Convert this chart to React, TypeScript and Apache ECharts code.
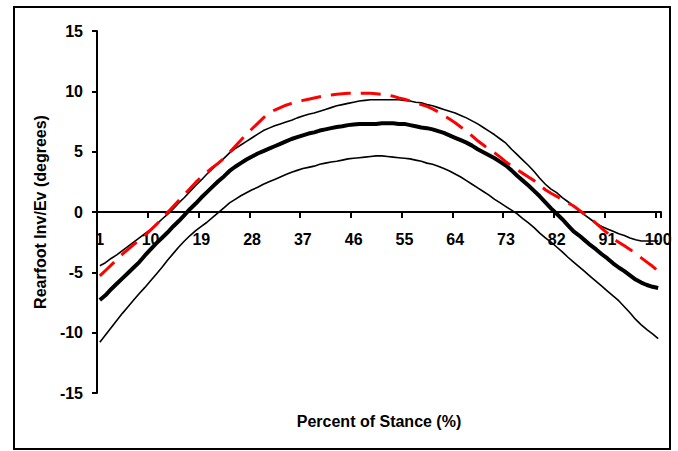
import React, { useEffect, useRef } from "react";
import * as echarts from "echarts";

const categories: string[] = Array.from({ length: 100 }, (_, i) => String(i + 1));

const meanValues: number[] = [
  -7.3, -6.9, -6.4, -5.95, -5.5, -5.05, -4.6, -4.15, -3.6, -3.1,
  -2.6, -2.15, -1.7, -1.2, -0.75, -0.25, 0.25, 0.7, 1.2, 1.65,
  2.1, 2.55, 2.95, 3.4, 3.75, 4.05, 4.35, 4.6, 4.85, 5.05,
  5.25, 5.45, 5.65, 5.85, 6.05, 6.2, 6.35, 6.5, 6.6, 6.75,
  6.85, 6.95, 7.05, 7.1, 7.2, 7.25, 7.3, 7.3, 7.3, 7.3,
  7.35, 7.35, 7.35, 7.3, 7.3, 7.2, 7.1, 7.0, 6.95, 6.85,
  6.7, 6.55, 6.35, 6.15, 5.95, 5.75, 5.5, 5.2, 4.95, 4.7,
  4.45, 4.15, 3.85, 3.45, 3.0, 2.6, 2.2, 1.75, 1.3, 0.8,
  0.3, -0.15, -0.6, -1.1, -1.6, -1.95, -2.35, -2.75, -3.1, -3.5,
  -3.85, -4.25, -4.6, -4.9, -5.25, -5.6, -5.85, -6.05, -6.2, -6.3,
];

const upperValues: number[] = [
  -4.45, -4.2, -3.85, -3.55, -3.2, -2.85, -2.5, -2.15, -1.8, -1.45,
  -1.05, -0.6, -0.2, 0.25, 0.75, 1.2, 1.7, 2.2, 2.65, 3.15,
  3.6, 4.0, 4.45, 4.9, 5.25, 5.55, 5.85, 6.15, 6.45, 6.75,
  6.95, 7.15, 7.3, 7.45, 7.6, 7.8, 7.95, 8.1, 8.2, 8.35,
  8.5, 8.65, 8.8, 8.9, 9.0, 9.1, 9.2, 9.25, 9.3, 9.3,
  9.3, 9.3, 9.3, 9.3, 9.25, 9.2, 9.1, 9.05, 8.9, 8.8,
  8.65, 8.5, 8.35, 8.2, 8.0, 7.8, 7.55, 7.3, 7.0, 6.7,
  6.4, 6.05, 5.7, 5.2, 4.75, 4.3, 3.85, 3.35, 2.8, 2.3,
  1.9, 1.6, 1.2, 0.85, 0.5, 0.1, -0.25, -0.6, -0.95, -1.2,
  -1.4, -1.6, -1.8, -1.95, -2.15, -2.3, -2.4, -2.4, -2.4, -2.4,
];

const lowerValues: number[] = [
  -10.8, -10.2, -9.6, -9.0, -8.4, -7.85, -7.3, -6.75, -6.25, -5.7,
  -5.15, -4.6, -4.0, -3.45, -2.9, -2.4, -1.95, -1.55, -1.2, -0.85,
  -0.45, -0.05, 0.35, 0.75, 1.05, 1.35, 1.6, 1.85, 2.05, 2.3,
  2.5, 2.7, 2.9, 3.1, 3.3, 3.45, 3.6, 3.7, 3.8, 3.95,
  4.05, 4.15, 4.2, 4.3, 4.4, 4.45, 4.5, 4.55, 4.6, 4.65,
  4.65, 4.6, 4.55, 4.5, 4.45, 4.4, 4.3, 4.2, 4.05, 3.95,
  3.8, 3.6, 3.4, 3.15, 2.9, 2.6, 2.3, 2.0, 1.7, 1.4,
  1.05, 0.75, 0.45, 0.15, -0.15, -0.55, -0.9, -1.3, -1.75, -2.15,
  -2.5, -2.9, -3.3, -3.75, -4.15, -4.55, -4.95, -5.35, -5.75, -6.15,
  -6.55, -6.95, -7.35, -7.85, -8.35, -8.9, -9.35, -9.75, -10.1, -10.5,
];

const redValues: number[] = [
  -5.3, -4.85, -4.4, -3.95, -3.5, -3.1, -2.7, -2.35, -1.95, -1.5,
  -1.05, -0.55, -0.05, 0.45, 0.95, 1.45, 1.95, 2.45, 2.9, 3.3,
  3.7, 4.05, 4.45, 4.95, 5.45, 5.95, 6.45, 6.9, 7.35, 7.8,
  8.2, 8.45, 8.65, 8.85, 9.0, 9.15, 9.25, 9.35, 9.45, 9.55,
  9.65, 9.7, 9.75, 9.8, 9.85, 9.85, 9.85, 9.85, 9.85, 9.8,
  9.75, 9.7, 9.6, 9.45, 9.35, 9.2, 9.05, 8.9, 8.75, 8.55,
  8.3, 8.0, 7.7, 7.4, 7.05, 6.7, 6.3, 5.9, 5.55, 5.2,
  4.9, 4.55, 4.15, 3.8, 3.5, 3.2, 2.9, 2.6, 2.2, 1.85,
  1.55, 1.3, 1.0, 0.75, 0.5, 0.15, -0.2, -0.55, -0.95, -1.35,
  -1.75, -2.2, -2.5, -2.8, -3.1, -3.45, -3.8, -4.15, -4.5, -4.9,
];

const xAxisTitle = "Percent of Stance (%)";
const yAxisTitle = "Rearfoot Inv/Ev (degrees)";

const FONT = '"Liberation Sans", Arial, sans-serif';

export default function App() {
  const ref = useRef<HTMLDivElement>(null);

  useEffect(() => {
    if (!ref.current) return;
    const chart = echarts.init(ref.current, undefined, { renderer: "svg" });
    chart.setOption({
      animation: false,
      backgroundColor: "#ffffff",
      grid: { left: 97, right: 17, top: 31, bottom: 58, containLabel: false },
      graphic: [
        {
          type: "rect",
          shape: { x: 14, y: 7, width: 656, height: 442 },
          style: { fill: "none", stroke: "#000", lineWidth: 2 },
          silent: true,
        },
      ],
      xAxis: [
        {
          type: "category",
          data: categories,
          boundaryGap: true,
          name: xAxisTitle,
          nameLocation: "middle",
          nameGap: 20,
          nameTextStyle: {
            fontFamily: FONT,
            fontWeight: "bold",
            fontSize: 16,
            color: "#000",
          },
          axisLine: { onZero: true, lineStyle: { color: "#000", width: 2 } },
          axisTick: { show: true, interval: 8, length: 6, inside: false, lineStyle: { color: "#000", width: 2 } },
          axisLabel: { show: false },
          splitLine: { show: false },
        },
        {
          type: "category",
          data: categories,
          boundaryGap: true,
          position: "bottom",
          offset: -162,
          axisLine: { show: false, onZero: false },
          axisTick: { show: false },
          axisLabel: {
            interval: 8,
            margin: 0,
            fontFamily: FONT,
            fontWeight: "bold",
            fontSize: 16,
            color: "#000",
          },
          splitLine: { show: false },
        },
      ],
      yAxis: {
        type: "value",
        min: -15,
        max: 15,
        interval: 5,
        name: yAxisTitle,
        nameLocation: "middle",
        nameGap: 48,
        nameTextStyle: {
          fontFamily: FONT,
          fontWeight: "bold",
          fontSize: 16,
          color: "#000",
        },
        axisLine: { show: true, lineStyle: { color: "#000", width: 2 } },
        axisTick: { show: true, length: 5, lineStyle: { color: "#000", width: 2 } },
        axisLabel: {
          margin: 14,
          fontFamily: FONT,
          fontWeight: "bold",
          fontSize: 16,
          color: "#000",
        },
        splitLine: { show: false },
      },
      series: [
        {
          name: "Lower",
          type: "line",
          data: lowerValues,
          symbol: "none",
          lineStyle: { color: "#000", width: 1.6 },
        },
        {
          name: "Upper",
          type: "line",
          data: upperValues,
          symbol: "none",
          lineStyle: { color: "#000", width: 1.6 },
        },
        {
          name: "Mean",
          type: "line",
          data: meanValues,
          symbol: "none",
          lineStyle: { color: "#000", width: 4 },
        },
        {
          name: "Subject",
          type: "line",
          data: redValues,
          symbol: "none",
          lineStyle: { color: "#ff0000", width: 3, type: [20, 10] },
        },
      ],
    });
    return () => chart.dispose();
  }, []);

  return (
    <div
      ref={ref}
      style={{ position: "absolute", left: 0, top: 0, width: 678, height: 451 }}
    />
  );
}
